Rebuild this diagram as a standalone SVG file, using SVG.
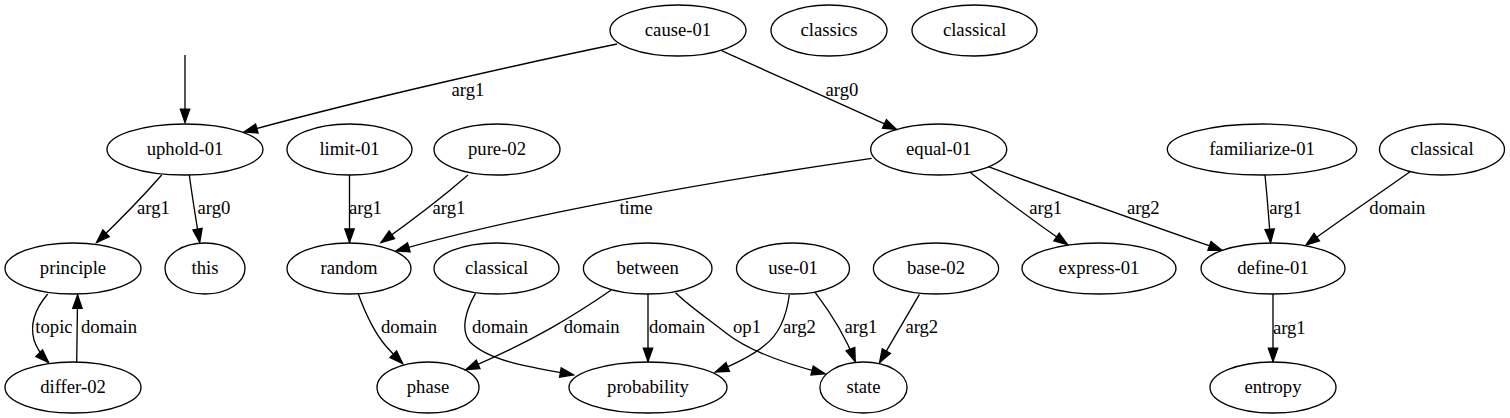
<svg xmlns="http://www.w3.org/2000/svg" width="1510" height="418" viewBox="0 0 1510 418">
<style>
.n ellipse{fill:none;stroke:#000;stroke-width:1.33}
text{font-size:18.67px;text-anchor:middle;fill:#000}
.e path{fill:none;stroke:#000;stroke-width:1.33;marker-end:url(#ah)}
.lab text{font-family:Liberation Serif,"DejaVu Serif",serif}
.n text{font-family:Liberation Serif,"DejaVu Serif",serif}
</style>
<defs>
<marker id="ah" markerWidth="16" markerHeight="12" refX="13.3" refY="4.67" orient="auto" markerUnits="userSpaceOnUse" overflow="visible">
<path d="M0,0 L13.3,4.67 L0,9.33 z" fill="#000" stroke="#000" stroke-width="1.33"/>
</marker>
</defs>
<rect width="1510" height="418" fill="#fff"/>
<g id="connectors" class="e">
<path d="M185,55 L185,122.5"/>
<path d="M617,44 C520,64 360,100 244,132"/>
<path d="M721.7,50.7 C770,73 840,103 896.5,129.5"/>
<path d="M161.7,175 C145,194 120,220 96.5,242.5"/>
<path d="M189.3,175 C192,195 196,220 199.7,242.3"/>
<path d="M349.5,175 L349.5,242.3"/>
<path d="M468,175 C445,195 410,222 381,242.5"/>
<path d="M871.7,158.3 C720,180 520,215 396,251"/>
<path d="M970,172.3 C995,192 1035,222 1067.5,244.5"/>
<path d="M988.3,166.7 C1050,190 1150,225 1222,250.3"/>
<path d="M1265,175 C1267,195 1269,220 1270.6,242.5"/>
<path d="M1410,171.7 C1380,193 1340,220 1306,245"/>
<path d="M1273,294 L1273,361.5"/>
<path d="M47.7,294 C34,310 30,325 34,340 C37,349 42,356 48.6,362.6"/>
<path d="M76.7,362.3 C77,340 77.4,315 77.6,295"/>
<path d="M358.3,294 C366,315 375,333 385,345 C391,352 397,358 402.7,363.7"/>
<path d="M475.5,293.3 C466,310 460,330 470,342 C490,362 535,368 573.5,374.8"/>
<path d="M611.3,290 C575,315 535,340 465.9,369.6"/>
<path d="M648,294 L648,361.5"/>
<path d="M675.6,292.7 C690,307 710,320 726,333 C750,352 790,365 825,373.8"/>
<path d="M789.3,295 C786,320 778,335 765,345 C752,356 735,364 715.4,372"/>
<path d="M815.3,292.7 C830,312 845,335 855.2,361.6"/>
<path d="M919.4,294.3 L879.6,362.6"/>
</g>
<g id="edge-labels" class="lab">
<text x="468" y="95.5">arg1</text>
<text x="842" y="95.5">arg0</text>
<text x="153.5" y="214">arg1</text>
<text x="214" y="214">arg0</text>
<text x="365.5" y="214">arg1</text>
<text x="449" y="214">arg1</text>
<text x="636" y="214">time</text>
<text x="1045.7" y="214">arg1</text>
<text x="1143.3" y="214">arg2</text>
<text x="1285.7" y="214">arg1</text>
<text x="1397.3" y="214">domain</text>
<text x="1289.3" y="333.5">arg1</text>
<text x="54" y="333">topic</text>
<text x="109" y="333">domain</text>
<text x="409" y="333">domain</text>
<text x="500" y="333">domain</text>
<text x="591.7" y="333">domain</text>
<text x="677" y="333">domain</text>
<text x="747" y="333">op1</text>
<text x="799.5" y="333">arg2</text>
<text x="861" y="333">arg1</text>
<text x="921.8" y="333">arg2</text>
</g>
<g id="cause-01" class="n"><ellipse cx="678" cy="30.5" rx="68" ry="25.5"/><text x="678" y="36">cause-01</text></g>
<g id="classics" class="n"><ellipse cx="829" cy="30.5" rx="58" ry="25.5"/><text x="829" y="36">classics</text></g>
<g id="classical-top" class="n"><ellipse cx="974.5" cy="30.5" rx="62.5" ry="25.5"/><text x="974.5" y="36">classical</text></g>
<g id="uphold-01" class="n"><ellipse cx="185" cy="149.5" rx="78" ry="25.5"/><text x="185" y="155">uphold-01</text></g>
<g id="limit-01" class="n"><ellipse cx="349.5" cy="149.5" rx="62.5" ry="25.5"/><text x="349.5" y="155">limit-01</text></g>
<g id="pure-02" class="n"><ellipse cx="497" cy="149.5" rx="63" ry="25.5"/><text x="497" y="155">pure-02</text></g>
<g id="equal-01" class="n"><ellipse cx="938.7" cy="149.5" rx="68" ry="25.5"/><text x="938.7" y="155">equal-01</text></g>
<g id="familiarize-01" class="n"><ellipse cx="1262" cy="149.5" rx="94.7" ry="25.5"/><text x="1262" y="155">familiarize-01</text></g>
<g id="classical-right" class="n"><ellipse cx="1442" cy="149.5" rx="62.5" ry="25.5"/><text x="1442" y="155">classical</text></g>
<g id="principle" class="n"><ellipse cx="73" cy="268.5" rx="68" ry="25.5"/><text x="73" y="274">principle</text></g>
<g id="this" class="n"><ellipse cx="205" cy="268.5" rx="40" ry="25.5"/><text x="205" y="274">this</text></g>
<g id="random" class="n"><ellipse cx="349" cy="268.5" rx="62" ry="25.5"/><text x="349" y="274">random</text></g>
<g id="classical-mid" class="n"><ellipse cx="496.5" cy="268.5" rx="62.5" ry="25.5"/><text x="496.5" y="274">classical</text></g>
<g id="between" class="n"><ellipse cx="647.7" cy="268.5" rx="64.3" ry="25.5"/><text x="647.7" y="274">between</text></g>
<g id="use-01" class="n"><ellipse cx="793" cy="268.5" rx="56.5" ry="25.5"/><text x="793" y="274">use-01</text></g>
<g id="base-02" class="n"><ellipse cx="936" cy="268.5" rx="62.6" ry="25.5"/><text x="936" y="274">base-02</text></g>
<g id="express-01" class="n"><ellipse cx="1099" cy="268.5" rx="77" ry="25.5"/><text x="1099" y="274">express-01</text></g>
<g id="define-01" class="n"><ellipse cx="1273" cy="268.5" rx="72" ry="25.5"/><text x="1273" y="274">define-01</text></g>
<g id="differ-02" class="n"><ellipse cx="73" cy="387.5" rx="68" ry="25.5"/><text x="73" y="393">differ-02</text></g>
<g id="phase" class="n"><ellipse cx="428" cy="387.5" rx="51" ry="25.5"/><text x="428" y="393">phase</text></g>
<g id="probability" class="n"><ellipse cx="648" cy="387.5" rx="79" ry="25.5"/><text x="648" y="393">probability</text></g>
<g id="state" class="n"><ellipse cx="863.5" cy="387.5" rx="43.6" ry="25.5"/><text x="863.5" y="393">state</text></g>
<g id="entropy" class="n"><ellipse cx="1273" cy="387.5" rx="63" ry="25.5"/><text x="1273" y="393">entropy</text></g>
</svg>
